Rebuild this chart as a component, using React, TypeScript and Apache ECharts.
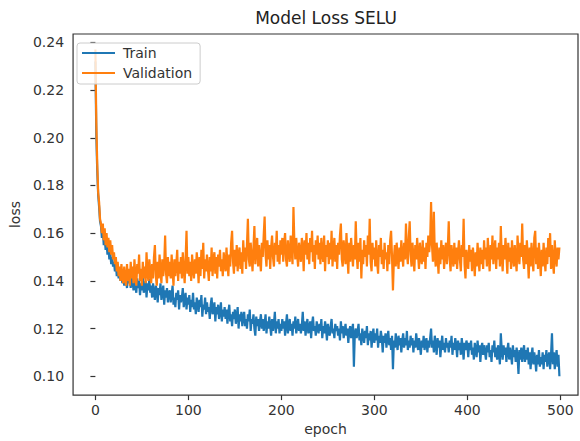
import React, { useEffect, useRef } from "react";
import * as echarts from "echarts";

const xTicks = [0, 100, 200, 300, 400, 500];
const yTicks = [0.1, 0.12, 0.14, 0.16, 0.18, 0.2, 0.22, 0.24];

const trainLoss = [
  0.232, 0.201, 0.186, 0.176, 0.171, 0.165, 0.163, 0.158, 0.161, 0.155, 0.158, 0.153, 0.156, 0.151, 0.154, 0.149, 0.152, 0.147, 0.150, 0.146,
  0.148, 0.144, 0.147, 0.142, 0.145, 0.141, 0.144, 0.140, 0.143, 0.139, 0.143, 0.138, 0.142, 0.140, 0.137, 0.143, 0.139, 0.141, 0.137, 0.142,
  0.140, 0.136, 0.142, 0.138, 0.135, 0.141, 0.137, 0.140, 0.134, 0.139, 0.136, 0.142, 0.135, 0.138, 0.140, 0.133, 0.139, 0.136, 0.141, 0.135,
  0.138, 0.133, 0.139, 0.135, 0.132, 0.138, 0.136, 0.131, 0.137, 0.134, 0.139, 0.132, 0.135, 0.138, 0.130, 0.136, 0.133, 0.137, 0.131, 0.135,
  0.136, 0.131, 0.134, 0.138, 0.130, 0.133, 0.129, 0.135, 0.132, 0.136, 0.128, 0.134, 0.131, 0.133, 0.137, 0.129, 0.132, 0.135, 0.128, 0.133,
  0.130, 0.134, 0.127, 0.132, 0.129, 0.135, 0.128, 0.131, 0.126, 0.133, 0.130, 0.127, 0.132, 0.129, 0.134, 0.125, 0.130, 0.128, 0.133, 0.126,
  0.131, 0.127, 0.129, 0.124, 0.130, 0.133, 0.126, 0.128, 0.131, 0.123, 0.129, 0.126, 0.130, 0.124, 0.127, 0.131, 0.123, 0.128, 0.125, 0.129,
  0.124, 0.128, 0.122, 0.127, 0.130, 0.123, 0.126, 0.121, 0.127, 0.124, 0.128, 0.122, 0.125, 0.129, 0.120, 0.126, 0.123, 0.127, 0.121, 0.125,
  0.127, 0.121, 0.124, 0.120, 0.126, 0.123, 0.128, 0.119, 0.124, 0.122, 0.126, 0.120, 0.117, 0.125, 0.121, 0.124, 0.119, 0.123, 0.126, 0.120,
  0.124, 0.119, 0.122, 0.126, 0.118, 0.123, 0.120, 0.125, 0.121, 0.117, 0.124, 0.119, 0.122, 0.127, 0.118, 0.123, 0.120, 0.124, 0.118, 0.122,
  0.119, 0.124, 0.120, 0.123, 0.117, 0.122, 0.126, 0.118, 0.121, 0.124, 0.119, 0.122, 0.117, 0.123, 0.120, 0.125, 0.118, 0.121, 0.124, 0.119,
  0.122, 0.118, 0.121, 0.127, 0.119, 0.123, 0.117, 0.121, 0.124, 0.118, 0.120, 0.123, 0.116, 0.122, 0.125, 0.119, 0.121, 0.117, 0.123, 0.120,
  0.118, 0.122, 0.119, 0.124, 0.116, 0.121, 0.118, 0.123, 0.120, 0.115, 0.122, 0.119, 0.117, 0.121, 0.124, 0.118, 0.120, 0.116, 0.122, 0.119,
  0.121, 0.117, 0.120, 0.115, 0.123, 0.118, 0.121, 0.116, 0.119, 0.122, 0.117, 0.120, 0.114, 0.119, 0.121, 0.116, 0.119, 0.122, 0.104, 0.118,
  0.120, 0.116, 0.119, 0.122, 0.115, 0.118, 0.113, 0.120, 0.117, 0.114, 0.119, 0.116, 0.121, 0.113, 0.118, 0.115, 0.119, 0.112, 0.117, 0.120,
  0.114, 0.118, 0.115, 0.120, 0.112, 0.117, 0.114, 0.119, 0.116, 0.110, 0.117, 0.114, 0.118, 0.112, 0.116, 0.119, 0.113, 0.116, 0.111, 0.117,
  0.103, 0.115, 0.112, 0.118, 0.114, 0.111, 0.117, 0.113, 0.116, 0.110, 0.115, 0.118, 0.112, 0.116, 0.113, 0.119, 0.111, 0.115, 0.112, 0.117,
  0.113, 0.116, 0.110, 0.115, 0.112, 0.118, 0.114, 0.111, 0.116, 0.113, 0.109, 0.115, 0.112, 0.117, 0.111, 0.114, 0.116, 0.110, 0.115, 0.112,
  0.116, 0.120, 0.112, 0.115, 0.110, 0.117, 0.113, 0.109, 0.116, 0.112, 0.115, 0.108, 0.113, 0.117, 0.111, 0.114, 0.110, 0.116, 0.112, 0.114,
  0.110, 0.115, 0.112, 0.117, 0.109, 0.114, 0.111, 0.116, 0.113, 0.108, 0.115, 0.111, 0.114, 0.109, 0.116, 0.112, 0.107, 0.114, 0.111, 0.115,
  0.113, 0.108, 0.114, 0.111, 0.115, 0.109, 0.112, 0.107, 0.114, 0.111, 0.108, 0.115, 0.110, 0.113, 0.106, 0.112, 0.114, 0.109, 0.113, 0.110,
  0.107, 0.113, 0.110, 0.114, 0.108, 0.111, 0.106, 0.113, 0.110, 0.115, 0.108, 0.112, 0.107, 0.113, 0.110, 0.105, 0.118, 0.111, 0.107, 0.113,
  0.109, 0.112, 0.106, 0.111, 0.114, 0.107, 0.112, 0.109, 0.105, 0.113, 0.108, 0.111, 0.106, 0.112, 0.108, 0.101, 0.111, 0.107, 0.112, 0.106,
  0.110, 0.113, 0.106, 0.111, 0.107, 0.112, 0.105, 0.110, 0.103, 0.109, 0.112, 0.105, 0.110, 0.107, 0.102, 0.109, 0.105, 0.111, 0.104, 0.108,
  0.105, 0.110, 0.103, 0.109, 0.106, 0.111, 0.104, 0.108, 0.110, 0.103, 0.109, 0.118, 0.105, 0.110, 0.103, 0.108, 0.111, 0.104, 0.109, 0.100,
];

const validationLoss = [
  0.237, 0.206, 0.189, 0.177, 0.173, 0.166, 0.164, 0.160, 0.164, 0.157, 0.162, 0.155, 0.160, 0.154, 0.158, 0.152, 0.157, 0.151, 0.155, 0.149,
  0.152, 0.147, 0.150, 0.144, 0.148, 0.142, 0.146, 0.140, 0.147, 0.142, 0.139, 0.146, 0.141, 0.138, 0.147, 0.140, 0.145, 0.138, 0.148, 0.141,
  0.146, 0.139, 0.149, 0.142, 0.138, 0.147, 0.143, 0.151, 0.140, 0.145, 0.138, 0.148, 0.141, 0.146, 0.139, 0.152, 0.143, 0.140, 0.149, 0.144,
  0.139, 0.147, 0.141, 0.150, 0.155, 0.142, 0.138, 0.148, 0.141, 0.151, 0.144, 0.139, 0.149, 0.142, 0.147, 0.159, 0.143, 0.139, 0.150, 0.142,
  0.148, 0.141, 0.151, 0.144, 0.138, 0.149, 0.142, 0.147, 0.153, 0.140, 0.148, 0.143, 0.150, 0.141, 0.152, 0.145, 0.139, 0.149, 0.161, 0.143,
  0.150, 0.142, 0.148, 0.140, 0.151, 0.145, 0.141, 0.149, 0.143, 0.152, 0.147, 0.139, 0.150, 0.142, 0.153, 0.145, 0.156, 0.141, 0.149, 0.144,
  0.151, 0.145, 0.140, 0.150, 0.144, 0.154, 0.142, 0.149, 0.152, 0.143, 0.150, 0.141, 0.151, 0.146, 0.153, 0.144, 0.149, 0.142, 0.152, 0.147,
  0.144, 0.154, 0.147, 0.142, 0.151, 0.146, 0.156, 0.161, 0.148, 0.143, 0.153, 0.146, 0.155, 0.144, 0.151, 0.154, 0.145, 0.152, 0.143, 0.157,
  0.148, 0.154, 0.145, 0.155, 0.166, 0.149, 0.146, 0.156, 0.150, 0.144, 0.154, 0.163, 0.147, 0.153, 0.158, 0.146, 0.155, 0.149, 0.144, 0.156,
  0.150, 0.159, 0.167, 0.151, 0.146, 0.157, 0.149, 0.155, 0.145, 0.154, 0.159, 0.150, 0.146, 0.156, 0.151, 0.161, 0.148, 0.155, 0.147, 0.157,
  0.151, 0.158, 0.148, 0.156, 0.160, 0.149, 0.146, 0.157, 0.152, 0.148, 0.159, 0.153, 0.147, 0.171, 0.156, 0.149, 0.158, 0.151, 0.146, 0.156,
  0.152, 0.148, 0.158, 0.154, 0.144, 0.157, 0.151, 0.160, 0.149, 0.156, 0.147, 0.158, 0.152, 0.161, 0.148, 0.155, 0.145, 0.157, 0.151, 0.159,
  0.149, 0.156, 0.147, 0.158, 0.152, 0.148, 0.159, 0.144, 0.155, 0.150, 0.157, 0.147, 0.156, 0.149, 0.161, 0.146, 0.153, 0.158, 0.148, 0.155,
  0.145, 0.156, 0.151, 0.159, 0.164, 0.149, 0.146, 0.157, 0.152, 0.147, 0.160, 0.151, 0.143, 0.156, 0.148, 0.158, 0.152, 0.146, 0.155, 0.149,
  0.165, 0.151, 0.145, 0.156, 0.148, 0.158, 0.141, 0.153, 0.147, 0.157, 0.150, 0.155, 0.146, 0.159, 0.151, 0.166, 0.148, 0.144, 0.156, 0.149,
  0.154, 0.146, 0.157, 0.148, 0.143, 0.155, 0.150, 0.158, 0.147, 0.153, 0.145, 0.156, 0.149, 0.152, 0.144, 0.155, 0.147, 0.157, 0.161, 0.150,
  0.136, 0.149, 0.155, 0.146, 0.156, 0.150, 0.145, 0.154, 0.148, 0.157, 0.151, 0.146, 0.156, 0.149, 0.164, 0.152, 0.147, 0.158, 0.165, 0.151,
  0.146, 0.156, 0.150, 0.144, 0.155, 0.149, 0.158, 0.151, 0.145, 0.156, 0.150, 0.147, 0.157, 0.148, 0.154, 0.145, 0.156, 0.150, 0.159, 0.152,
  0.157, 0.173, 0.155, 0.148, 0.169, 0.151, 0.146, 0.156, 0.150, 0.143, 0.154, 0.147, 0.157, 0.149, 0.155, 0.145, 0.152, 0.156, 0.147, 0.154,
  0.165, 0.149, 0.144, 0.155, 0.150, 0.146, 0.156, 0.147, 0.154, 0.145, 0.152, 0.157, 0.149, 0.144, 0.155, 0.150, 0.166, 0.147, 0.141, 0.153,
  0.149, 0.145, 0.155, 0.148, 0.153, 0.144, 0.154, 0.149, 0.142, 0.152, 0.146, 0.156, 0.149, 0.144, 0.154, 0.147, 0.153, 0.145, 0.157, 0.149,
  0.154, 0.146, 0.158, 0.150, 0.144, 0.155, 0.149, 0.159, 0.147, 0.153, 0.157, 0.145, 0.154, 0.149, 0.156, 0.146, 0.163, 0.150, 0.144, 0.155,
  0.149, 0.158, 0.151, 0.143, 0.156, 0.148, 0.154, 0.145, 0.157, 0.150, 0.146, 0.155, 0.149, 0.144, 0.159, 0.151, 0.147, 0.156, 0.150, 0.164,
  0.149, 0.145, 0.155, 0.147, 0.157, 0.150, 0.141, 0.154, 0.146, 0.156, 0.149, 0.144, 0.158, 0.161, 0.147, 0.154, 0.145, 0.156, 0.149, 0.142,
  0.153, 0.146, 0.156, 0.149, 0.144, 0.154, 0.147, 0.158, 0.150, 0.160, 0.145, 0.155, 0.148, 0.143, 0.157, 0.150, 0.146, 0.154, 0.149, 0.154,
];

const FONT = "DejaVu Sans";
const TEXT = "#333";

export default function App() {
  const ref = useRef<HTMLDivElement>(null);
  useEffect(() => {
    if (!ref.current) return;
    const chart = echarts.init(ref.current, null, { renderer: "svg" });
    const train = trainLoss.map((v, i) => [i, v]);
    const val = validationLoss.map((v, i) => [i, v]);
    chart.setOption({
      animation: false,
      backgroundColor: "#fff",
      title: {
        text: "Model Loss SELU",
        left: 326,
        top: 9,
        textAlign: "center",
        padding: 0,
        textStyle: { fontFamily: FONT, fontSize: 17, fontWeight: "normal", color: "#222" },
      },
      legend: {
        orient: "vertical",
        left: 77,
        top: 43,
        padding: [3, 8, 4, 5],
        itemGap: 6,
        itemWidth: 33,
        itemHeight: 2,
        icon: "rect",
        backgroundColor: "rgba(255,255,255,0.8)",
        borderColor: "#ccc",
        borderWidth: 1,
        borderRadius: 3,
        textStyle: { fontFamily: FONT, fontSize: 14, color: TEXT, lineHeight: 14, padding: [0, 0, 0, 3] },
        data: ["Train", "Validation"],
      },
      grid: {
        left: 71,
        right: 2,
        top: 34,
        bottom: 41,
        show: true,
        borderColor: "#333",
        borderWidth: 1.2,
        backgroundColor: "transparent",
      },
      xAxis: {
        type: "value",
        min: -24,
        max: 519,
        name: "epoch",
        nameLocation: "middle",
        nameGap: 26,
        nameTextStyle: { fontFamily: FONT, fontSize: 14, color: TEXT },
        splitLine: { show: false },
        axisLine: { show: false },
        axisTick: { show: true, length: 5, lineStyle: { color: "#333", width: 1.2 }, customValues: xTicks },
        axisLabel: { fontFamily: FONT, fontSize: 14, color: TEXT, margin: 8, customValues: xTicks },
      },
      yAxis: {
        type: "value",
        min: 0.0921,
        max: 0.2435,
        name: "loss",
        nameLocation: "middle",
        nameGap: 50,
        nameRotate: 90,
        nameTextStyle: { fontFamily: FONT, fontSize: 14, color: TEXT },
        splitLine: { show: false },
        axisLine: { show: false },
        axisTick: { show: true, length: 5, lineStyle: { color: "#333", width: 1.2 }, customValues: yTicks },
        axisLabel: {
          fontFamily: FONT,
          fontSize: 14,
          color: TEXT,
          margin: 9,
          customValues: yTicks,
          formatter: (v: number) => v.toFixed(2),
        },
      },
      series: [
        {
          name: "Train",
          type: "line",
          data: train,
          showSymbol: false,
          symbol: "none",
          lineStyle: { color: "#1f77b4", width: 2.2 },
          itemStyle: { color: "#1f77b4" },
          z: 2,
        },
        {
          name: "Validation",
          type: "line",
          data: val,
          showSymbol: false,
          symbol: "none",
          lineStyle: { color: "#ff7f0e", width: 2.2 },
          itemStyle: { color: "#ff7f0e" },
          z: 3,
        },
      ],
    });
    return () => chart.dispose();
  }, []);
  return (
    <div
      ref={ref}
      style={{ position: "fixed", left: 0, top: 0, width: 580, height: 441 }}
    />
  );
}
